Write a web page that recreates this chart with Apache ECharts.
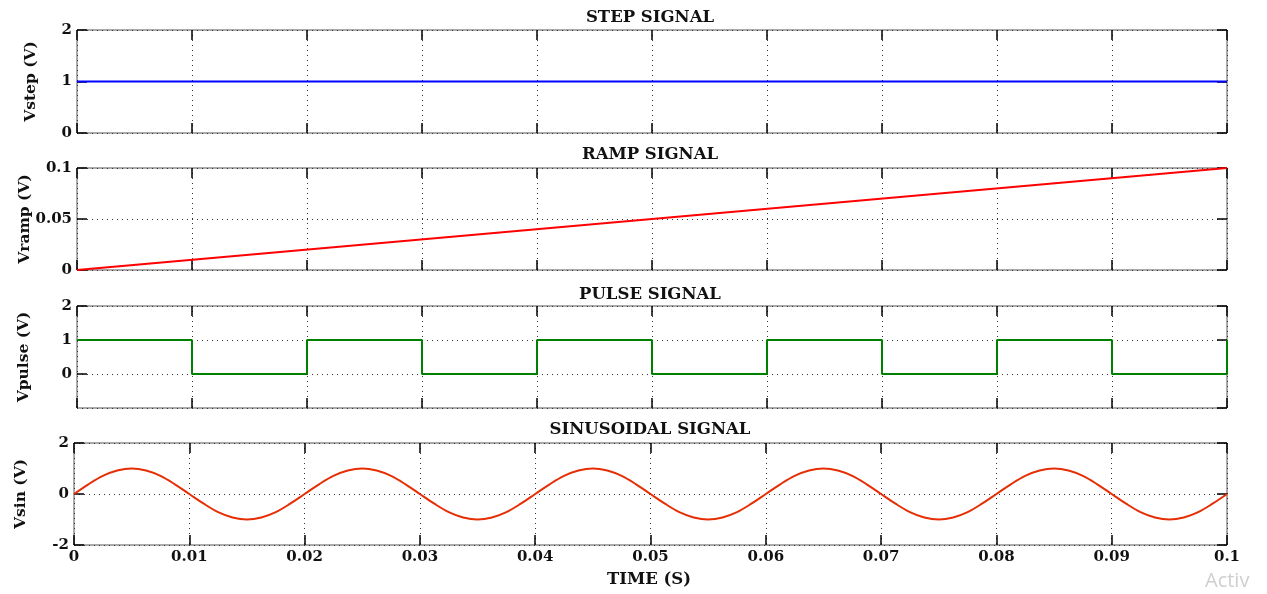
<!DOCTYPE html>
<html>
<head>
<meta charset="utf-8">
<script src="https://cdn.jsdelivr.net/npm/echarts@6/dist/echarts.min.js"></script>
<style>
  html, body { margin: 0; padding: 0; background: #fff; }
  #chart { width: 1267px; height: 594px; }
</style>
</head>
<body>
<div id="chart"></div>
<script>
// signal data
const titles = ["STEP SIGNAL", "RAMP SIGNAL", "PULSE SIGNAL", "SINUSOIDAL SIGNAL"];
const yNames = ["Vstep (V)", "Vramp (V)", "Vpulse (V)", "Vsin (V)"];

const stepT = [0, 0.1];
const stepV = [1, 1];

const rampT = [0, 0.1];
const rampV = [0, 0.1];

const pulseT = [0, 0.01, 0.01, 0.02, 0.02, 0.03, 0.03, 0.04, 0.04, 0.05, 0.05, 0.06, 0.06, 0.07, 0.07, 0.08, 0.08, 0.09, 0.09, 0.1, 0.1];
const pulseV = [1, 1, 0, 0, 1, 1, 0, 0, 1, 1, 0, 0, 1, 1, 0, 0, 1, 1, 0, 0, 1];

const sinStep = 0.00125;
const sinV = [
  0, 0.38, 0.71, 0.92, 1, 0.92, 0.71, 0.38, 0, -0.38, -0.71, -0.92, -1, -0.92, -0.71, -0.38,
  0, 0.38, 0.71, 0.92, 1, 0.92, 0.71, 0.38, 0, -0.38, -0.71, -0.92, -1, -0.92, -0.71, -0.38,
  0, 0.38, 0.71, 0.92, 1, 0.92, 0.71, 0.38, 0, -0.38, -0.71, -0.92, -1, -0.92, -0.71, -0.38,
  0, 0.38, 0.71, 0.92, 1, 0.92, 0.71, 0.38, 0, -0.38, -0.71, -0.92, -1, -0.92, -0.71, -0.38,
  0, 0.38, 0.71, 0.92, 1, 0.92, 0.71, 0.38, 0, -0.38, -0.71, -0.92, -1, -0.92, -0.71, -0.38,
  0
];

const yRanges = [
  { min: 0, max: 2, interval: 1 },
  { min: 0, max: 0.1, interval: 0.05 },
  { min: -1, max: 2, interval: 1 },
  { min: -2, max: 2, interval: 2 },
];
const xMin = 0, xMax = 0.1, xStep = 0.01;

const FONT = "'DejaVu Serif', 'Liberation Serif', serif";
const colors = ["#0000ff", "#ff0000", "#008000", "#e62e05"];

const grids = [
  { left: 77, right: 40, top: 30, height: 103 },
  { left: 77, right: 40, top: 168, height: 102 },
  { left: 77, right: 40, top: 306, height: 102 },
  { left: 74, right: 40, top: 443, height: 102 },
];
const titleY = [18, 155, 295, 430];
const nameGaps = [38, 44, 45, 45];

const dotted = { color: "#333", width: 1, type: [1, 4] };
const tick = { show: true, inside: true, length: 10, lineStyle: { color: "#000", width: 1.5 } };

const xAxes = [], yAxes = [];
grids.forEach((g, i) => {
  const last = i === grids.length - 1;
  xAxes.push({
    gridIndex: i, type: "value", min: xMin, max: xMax, interval: xStep,
    axisLine: { show: false, onZero: false },
    axisTick: tick,
    splitLine: { show: true, lineStyle: dotted },
    axisLabel: {
      show: last, color: "#111", fontFamily: FONT, fontWeight: "bold", fontSize: 15, margin: 5,
      formatter: v => String(+v.toFixed(2)),
    },
  });
  xAxes.push({
    gridIndex: i, type: "value", position: "top", min: xMin, max: xMax, interval: xStep,
    axisLine: { show: false, onZero: false }, axisTick: tick, splitLine: { show: false }, axisLabel: { show: false },
  });
  const r = yRanges[i];
  yAxes.push({
    gridIndex: i, type: "value", min: r.min, max: r.max, interval: r.interval,
    name: yNames[i], nameLocation: "middle", nameGap: nameGaps[i], nameRotate: 90,
    nameMoveOverlap: false,
    nameTextStyle: { color: "#111", fontFamily: FONT, fontWeight: "bold", fontSize: 15.5 },
    axisLine: { show: false, onZero: false },
    axisTick: tick,
    splitLine: { show: true, lineStyle: dotted },
    axisLabel: {
      color: "#111", fontFamily: FONT, fontWeight: "bold", fontSize: 15, margin: 5,
      showMinLabel: i !== 2,
      formatter: v => String(+v.toFixed(2)),
    },
  });
  yAxes.push({
    gridIndex: i, type: "value", position: "right", min: r.min, max: r.max, interval: r.interval,
    axisLine: { show: false, onZero: false }, axisTick: tick, splitLine: { show: false }, axisLabel: { show: false },
  });
});

const zip = (t, v) => t.map((x, k) => [x, v[k]]);
const seriesData = [
  zip(stepT, stepV),
  zip(rampT, rampV),
  zip(pulseT, pulseV),
  sinV.map((v, k) => [k * sinStep, v]),
];

const series = seriesData.map((d, i) => ({
  type: "line",
  xAxisIndex: i * 2,
  yAxisIndex: i * 2,
  data: d,
  showSymbol: false,
  symbol: "none",
  smooth: i === 3 ? 0.35 : false,
  lineStyle: { color: colors[i], width: 2 },
  animation: false,
  z: 3,
}));

const graphic = titles.map((t, i) => ({
  type: "text", x: 650, y: titleY[i],
  style: { text: t, font: "bold 16.5px " + FONT, fill: "#111", textAlign: "center", textVerticalAlign: "middle" },
}));
graphic.push({
  type: "text", x: 649, y: 580,
  style: { text: "TIME (S)", font: "bold 16.5px " + FONT, fill: "#111", textAlign: "center", textVerticalAlign: "middle" },
});
graphic.push({
  type: "text", x: 1205, y: 581,
  style: { text: "Activ", font: "20px 'Open Sans', sans-serif", fill: "#cfcfcf", textAlign: "left", textVerticalAlign: "middle" },
});

const chart = echarts.init(document.getElementById("chart"));
chart.setOption({
  backgroundColor: "#fff",
  animation: false,
  grid: grids.map(g => Object.assign({ show: true, borderColor: "#555", borderWidth: 1, containLabel: false }, g)),
  xAxis: xAxes,
  yAxis: yAxes,
  series: series,
  graphic: graphic,
});
</script>
</body>
</html>
